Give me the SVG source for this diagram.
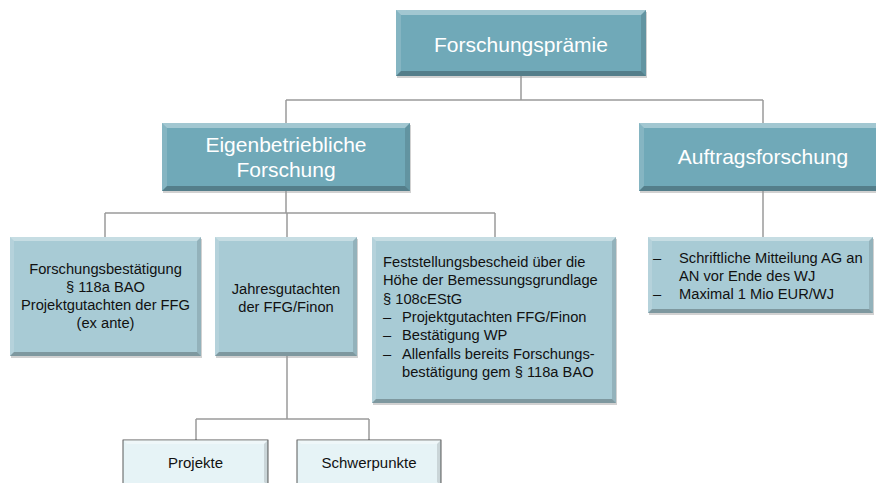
<svg xmlns="http://www.w3.org/2000/svg" width="876" height="483" viewBox="0 0 876 483">
<style>
.main{fill:#70A9B8}
.mid{fill:#A8CBD5}
.light{fill:#E6F3F6;stroke:#333;stroke-width:0.8}
.hl{fill:#ffffff;opacity:0.35}
.hl2{fill:#ffffff;opacity:0.15}
.sh{fill:#000000;opacity:0.12}
.sh2{fill:#000000;opacity:0.25}
.shadow{fill:#9a9a9a;opacity:0.45}
.t1{font-family:"Liberation Sans",Arial,sans-serif;font-size:21px;fill:#ffffff;text-anchor:middle}
.t2{font-family:"Liberation Sans",Arial,sans-serif;font-size:14.7px;fill:#111111}
.c{text-anchor:middle}
.t3{font-family:"Liberation Sans",Arial,sans-serif;font-size:15px;fill:#111111;text-anchor:middle}
.conn{fill:none;stroke:#9a9a9a;stroke-width:1.5}
</style>
<rect width="876" height="483" fill="#ffffff"/>
<g id="connectors">
<path class="conn" d="M521,76 V100 M286,100 H763 M286,100 V123 M763,100 V123"/>
<path class="conn" d="M286,191 V213 M105,213 H495 M105,213 V237 M287,213 V237 M495,213 V237"/>
<path class="conn" d="M763,191 V237"/>
<path class="conn" d="M287,356 V419 M196,419 H369 M196,419 V440 M369,419 V440"/>
</g>
<g id="n-forschungspraemie">
<rect class="shadow" x="397" y="12" width="250" height="66"/>
<rect class="main" x="396" y="10" width="250" height="66"/>
<polygon class="hl" points="396,10 646,10 641,15 401,15"/>
<polygon class="hl2" points="396,10 401,15 401,71 396,76"/>
<polygon class="sh" points="646,10 646,76 641,71 641,15"/>
<polygon class="sh2" points="396,76 646,76 641,71 401,71"/>
<text class="t1" x="521" y="51.5">Forschungsprämie</text>
</g>
<g id="n-eigen">
<rect class="shadow" x="163" y="125" width="248" height="68"/>
<rect class="main" x="162" y="123" width="248" height="68"/>
<polygon class="hl" points="162,123 410,123 405,128 167,128"/>
<polygon class="hl2" points="162,123 167,128 167,186 162,191"/>
<polygon class="sh" points="410,123 410,191 405,186 405,128"/>
<polygon class="sh2" points="162,191 410,191 405,186 167,186"/>
<text class="t1" x="286" y="152">Eigenbetriebliche</text>
<text class="t1" x="286" y="177">Forschung</text>
</g>
<g id="n-auftrag">
<rect class="shadow" x="640" y="125" width="248" height="68"/>
<rect class="main" x="639" y="123" width="248" height="68"/>
<polygon class="hl" points="639,123 887,123 882,128 644,128"/>
<polygon class="hl2" points="639,123 644,128 644,186 639,191"/>
<polygon class="sh2" points="639,191 887,191 882,186 644,186"/>
<text class="t1" x="763" y="164">Auftragsforschung</text>
</g>
<g id="n-bestaetigung">
<rect class="shadow" x="11" y="239" width="191" height="119"/>
<rect class="mid" x="10" y="237" width="191" height="119"/>
<polygon class="hl" points="10,237 201,237 197,241 14,241"/>
<polygon class="hl2" points="10,237 14,241 14,352 10,356"/>
<polygon class="sh" points="201,237 201,356 197,352 197,241"/>
<polygon class="sh2" points="10,356 201,356 197,352 14,352"/>
<text class="t2 c" x="105.5" y="274">Forschungsbestätigung</text>
<text class="t2 c" x="105.5" y="292">§ 118a BAO</text>
<text class="t2 c" x="105.5" y="310">Projektgutachten der FFG</text>
<text class="t2 c" x="105.5" y="328">(ex ante)</text>
</g>
<g id="n-jahres">
<rect class="shadow" x="216" y="239" width="142" height="119"/>
<rect class="mid" x="215" y="237" width="142" height="119"/>
<polygon class="hl" points="215,237 357,237 353,241 219,241"/>
<polygon class="hl2" points="215,237 219,241 219,352 215,356"/>
<polygon class="sh" points="357,237 357,356 353,352 353,241"/>
<polygon class="sh2" points="215,356 357,356 353,352 219,352"/>
<text class="t2 c" x="286" y="294">Jahresgutachten</text>
<text class="t2 c" x="286" y="312">der FFG/Finon</text>
</g>
<g id="n-feststellung">
<rect class="shadow" x="373" y="239" width="244" height="166"/>
<rect class="mid" x="372" y="237" width="244" height="166"/>
<polygon class="hl" points="372,237 616,237 612,241 376,241"/>
<polygon class="hl2" points="372,237 376,241 376,399 372,403"/>
<polygon class="sh" points="616,237 616,403 612,399 612,241"/>
<polygon class="sh2" points="372,403 616,403 612,399 376,399"/>
<text class="t2" x="383" y="267">Feststellungsbescheid über die</text>
<text class="t2" x="383" y="285">Höhe der Bemessungsgrundlage</text>
<text class="t2" x="383" y="304">§ 108cEStG</text>
<text class="t2" x="383" y="322">–</text><text class="t2" x="402" y="322">Projektgutachten FFG/Finon</text>
<text class="t2" x="383" y="340">–</text><text class="t2" x="402" y="340">Bestätigung WP</text>
<text class="t2" x="383" y="359">–</text><text class="t2" x="402" y="359">Allenfalls bereits Forschungs-</text>
<text class="t2" x="402" y="377">bestätigung gem § 118a BAO</text>
</g>
<g id="n-mitteilung">
<rect class="shadow" x="649" y="239" width="225" height="76"/>
<rect class="mid" x="648" y="237" width="225" height="76"/>
<polygon class="hl" points="648,237 873,237 869,241 652,241"/>
<polygon class="hl2" points="648,237 652,241 652,309 648,313"/>
<polygon class="sh" points="873,237 873,313 869,309 869,241"/>
<polygon class="sh2" points="648,313 873,313 869,309 652,309"/>
<text class="t2" x="653" y="263">–</text><text class="t2" x="679" y="263">Schriftliche Mitteilung AG an</text>
<text class="t2" x="679" y="281">AN vor Ende des WJ</text>
<text class="t2" x="653" y="299">–</text><text class="t2" x="679" y="299">Maximal 1 Mio EUR/WJ</text>
</g>
<g id="n-projekte">
<rect class="light" x="123" y="440" width="145" height="46"/>
<polygon class="hl" points="123,440 268,440 264,444 127,444"/>
<polygon class="sh" points="268,440 268,486 264,482 264,444"/>
<text class="t3" x="195.5" y="468">Projekte</text>
</g>
<g id="n-schwerpunkte">
<rect class="light" x="297" y="440" width="144" height="46"/>
<polygon class="hl" points="297,440 441,440 437,444 301,444"/>
<polygon class="sh" points="441,440 441,486 437,482 437,444"/>
<text class="t3" x="369" y="468">Schwerpunkte</text>
</g>
</svg>
